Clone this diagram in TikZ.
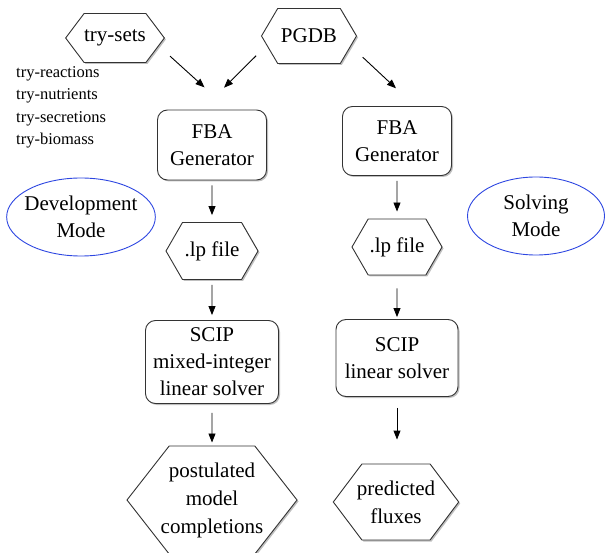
\documentclass[tikz,border=0pt]{standalone}
\usepackage{fontspec}
\setmainfont{Liberation Serif}
\newfontfamily\timesf{Liberation Serif}
\usetikzlibrary{shapes.symbols,shapes.geometric,arrows.meta,shadows}
\begin{document}
\begin{tikzpicture}[x=1pt,y=-1pt,
  shad/.style={drop shadow={shadow xshift=1.5pt,shadow yshift=-1.5pt,opacity=0.25,fill=black}},
  box/.style={draw=black!80,line width=0.9pt,rounded corners=10pt,fill=white,align=center,inner sep=0pt,shad,font=\timesf\fontsize{21}{27}\selectfont},
  hexa/.style={signal,signal to=east and west,draw=black!80,line width=0.9pt,fill=white,align=center,inner sep=0pt,shad,font=\timesf\fontsize{21}{28}\selectfont},
  mode/.style={ellipse,draw={rgb,255:red,45;green,70;blue,225},line width=0.9pt,align=center,inner sep=0pt,font=\timesf\fontsize{21}{27}\selectfont},
  arr/.style={-{Triangle[length=9pt,width=7pt]},line width=0.9pt}]
\useasboundingbox (0,0) rectangle (605,553);
% top sources
\node[hexa,minimum width=95pt,minimum height=49pt,signal pointer angle=106] (trysets) at (115,38) {try-sets};
\node[hexa,minimum width=95pt,minimum height=55pt,signal pointer angle=119] (pgdb) at (309,36) {PGDB};
\node[anchor=north west,align=left,inner sep=0pt,font=\timesf\fontsize{16.5}{22.5}\selectfont] (trylist) at (16,66)
  {try-reactions\\try-nutrients\\try-secretions\\try-biomass};
% left column
\node[box,minimum width=109pt,minimum height=70pt] (fbaL) at (212,145) {FBA\\Generator};
\node[hexa,minimum width=92pt,minimum height=57pt,signal pointer angle=120] (lpL) at (212,251) {.lp file};
\node[box,minimum width=133pt,minimum height=83pt] (scipL) at (212,362) {SCIP\\mixed-integer\\linear solver};
\node[hexa,minimum height=108pt,inner xsep=-8.5pt,signal pointer angle=104] (post) at (212,500) {postulated\\model\\completions};
% right column
\node[box,minimum width=109pt,minimum height=69pt] (fbaR) at (397,141) {FBA\\Generator};
\node[hexa,minimum width=90pt,minimum height=56pt,signal pointer angle=120] (lpR) at (397,247) {.lp file};
\node[box,minimum width=122pt,minimum height=77pt] (scipR) at (397,358) {SCIP\\linear solver};
\node[hexa,minimum height=76pt,inner xsep=-5pt,signal pointer angle=106] (pred) at (396,502) {predicted\\fluxes};
% modes
\node[mode,minimum width=147pt,minimum height=78pt,inner xsep=-4pt] (devmode) at (81,217) {Development\\Mode};
\node[mode,minimum width=137pt,minimum height=78pt] (solvmode) at (536,216) {Solving\\Mode};
% connectors
\draw[arr,shorten <=27pt,shorten >=33pt] ([xshift=35pt]trysets.center) -- ([xshift=17pt]fbaL.north);
\draw[arr,shorten <=28pt,shorten >=31pt] ([xshift=-33pt]pgdb.center) -- ([xshift=-10pt]fbaL.north);
\draw[arr,shorten <=31pt,shorten >=26pt] ([xshift=31pt]pgdb.center) -- ([xshift=18pt]fbaR.north);
\draw[arr,shorten <=5pt,shorten >=7pt] (fbaL) -- (lpL);
\draw[arr,shorten <=5pt,shorten >=5pt] (lpL) -- (scipL);
\draw[arr,shorten <=9pt,shorten >=3pt] (scipL) -- (post);
\draw[arr,shorten <=5pt,shorten >=7pt] (fbaR) -- (lpR);
\draw[arr,shorten <=13pt,shorten >=2pt] (lpR) -- (scipR);
\draw[arr,shorten <=11pt,shorten >=24pt] (scipR) -- (scipR.south |- pred.north);
\end{tikzpicture}
\end{document}
